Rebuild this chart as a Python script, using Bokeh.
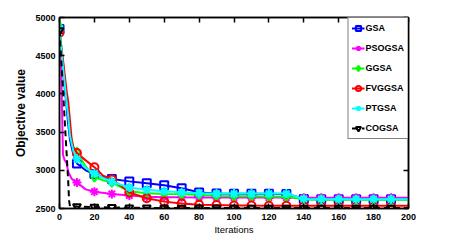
from bokeh.plotting import figure
from bokeh.models import LinearAxis, FixedTicker, Range1d
from bokeh.embed import file_html
from bokeh.resources import INLINE

# ---- data ----
gsa_iter = [0, 2, 4, 5, 6, 8, 10, 15, 20, 25, 30, 40, 50, 60, 70, 75, 80, 90, 100, 110, 120, 130, 135, 140, 150, 160, 170, 180, 190, 200]
gsa_val = [4850, 4300, 3850, 3600, 3400, 3200, 3090, 3000, 2950, 2910, 2885, 2855, 2830, 2805, 2765, 2740, 2710, 2695, 2693, 2692, 2692, 2690, 2660, 2625, 2622, 2620, 2620, 2620, 2620, 2620]

pso_iter = [0, 1, 2, 3, 4, 5, 7, 8, 10, 15, 20, 30, 40, 50, 60, 70, 80, 90, 100, 110, 120, 130, 140, 150, 160, 170, 180, 190, 200]
pso_val = [4850, 4300, 3200, 3130, 3100, 2980, 2890, 2870, 2840, 2750, 2720, 2690, 2670, 2655, 2648, 2646, 2645, 2645, 2644, 2644, 2643, 2643, 2642, 2642, 2641, 2641, 2640, 2640, 2640]

ggsa_iter = [0, 2, 4, 5, 6, 8, 10, 15, 20, 25, 30, 40, 50, 60, 70, 80, 90, 100, 110, 120, 130, 135, 140, 150, 160, 170, 180, 190, 200]
ggsa_val = [4880, 4400, 3950, 3750, 3500, 3300, 3240, 3050, 2910, 2870, 2840, 2725, 2700, 2690, 2685, 2680, 2665, 2660, 2660, 2658, 2655, 2640, 2618, 2616, 2615, 2615, 2615, 2615, 2615]

fvg_iter = [0, 2, 4, 5, 6, 7, 8, 10, 15, 20, 25, 30, 35, 40, 50, 60, 70, 80, 90, 100, 110, 120, 130, 140, 150, 160, 170, 180, 190, 200]
fvg_val = [4800, 4450, 4050, 3900, 3650, 3400, 3300, 3225, 3130, 3040, 2930, 2880, 2800, 2710, 2635, 2590, 2565, 2550, 2545, 2540, 2538, 2537, 2536, 2535, 2535, 2535, 2535, 2535, 2535, 2535]

pt_iter = [0, 2, 4, 5, 6, 8, 10, 15, 20, 25, 30, 40, 50, 60, 70, 80, 90, 100, 110, 120, 130, 135, 140, 150, 160, 170, 180, 190, 200]
pt_val = [4850, 4350, 3900, 3700, 3450, 3250, 3150, 3030, 2960, 2900, 2850, 2775, 2745, 2725, 2712, 2700, 2695, 2695, 2695, 2695, 2695, 2660, 2625, 2622, 2620, 2620, 2620, 2620, 2620]

co_iter = [0, 1, 2, 3, 4, 5, 5.5, 6, 10, 20, 30, 40, 50, 60, 70, 80, 90, 100, 110, 120, 130, 140, 150, 160, 170, 180, 190, 200]
co_val = [4830, 4450, 4050, 3650, 3250, 2850, 2600, 2530, 2525, 2518, 2514, 2510, 2508, 2507, 2506, 2505, 2505, 2505, 2505, 2505, 2505, 2505, 2505, 2505, 2505, 2505, 2505, 2505]

series = [
    ("GSA", gsa_iter, gsa_val, "#0000FF", "square", "solid", 8),
    ("PSOGSA", pso_iter, pso_val, "#FF00FF", "asterisk", "solid", 9),
    ("GGSA", ggsa_iter, ggsa_val, "#00FF00", "diamond", "solid", 9),
    ("FVGGSA", fvg_iter, fvg_val, "#FF0000", "circle", "solid", 8),
    ("PTGSA", pt_iter, pt_val, "#00FFFF", "asterisk", "solid", 9),
    ("COGSA", co_iter, co_val, "#000000", "inverted_triangle", "6 4", 8),
]

x_ticks = [0, 20, 40, 60, 80, 100, 120, 140, 160, 180, 200]
y_ticks = [2500, 3000, 3500, 4000, 4500, 5000]

FONT = "Liberation Sans"

p = figure(width=444, height=237, output_backend="svg", toolbar_location=None,
           x_range=Range1d(0, 200), y_range=Range1d(2500, 5000),
           min_border_left=59, min_border_right=36, min_border_top=17, min_border_bottom=29)
p.background_fill_color = "white"
p.border_fill_color = "white"
p.grid.visible = False
p.outline_line_color = "black"
p.outline_line_width = 1.5

for name, xs, ys, col, mk, dash, sz in series:
    p.line(xs, ys, line_color=col, line_width=2, line_dash=dash, legend_label=name)
    mx = [x for x in xs if x % 10 == 0 and x < 200]
    my = [y for x, y in zip(xs, ys) if x % 10 == 0 and x < 200]
    p.scatter(mx, my, marker=mk, size=sz, line_color=col, line_width=2,
              fill_color=col, fill_alpha=0.0, legend_label=name)

def style_axis(ax, show_labels=True):
    ax.major_tick_in = 5
    ax.major_tick_out = 0
    ax.minor_tick_line_color = None
    ax.major_tick_line_color = "black"
    ax.major_tick_line_width = 1.5
    ax.axis_line_color = "black"
    ax.axis_line_width = 1.5
    ax.major_label_text_font = FONT
    ax.major_label_text_font_style = "bold"
    ax.major_label_text_font_size = "9px"
    if show_labels:
        ax.major_label_text_color = "black"
    else:
        ax.major_label_text_color = None
        ax.major_label_standoff = 0

p.xaxis.ticker = FixedTicker(ticks=x_ticks)
p.yaxis.ticker = FixedTicker(ticks=y_ticks)
style_axis(p.xaxis[0])
style_axis(p.yaxis[0])
p.xaxis.major_label_standoff = 5
p.yaxis.major_label_standoff = 4

p.xaxis.axis_label = "Iterations"
p.xaxis.axis_label_text_font = FONT
p.xaxis.axis_label_text_font_style = "normal"
p.xaxis.axis_label_text_font_size = "9.5px"
p.xaxis.axis_label_text_color = "black"
p.xaxis.axis_label_standoff = 1

p.yaxis.axis_label = "Objective value"
p.yaxis.axis_label_text_font = FONT
p.yaxis.axis_label_text_font_style = "bold"
p.yaxis.axis_label_text_font_size = "12px"
p.yaxis.axis_label_text_color = "black"
p.yaxis.axis_label_standoff = 4

top_ax = LinearAxis(ticker=FixedTicker(ticks=x_ticks))
style_axis(top_ax, show_labels=False)
p.add_layout(top_ax, "above")
right_ax = LinearAxis(ticker=FixedTicker(ticks=y_ticks))
style_axis(right_ax, show_labels=False)
p.add_layout(right_ax, "right")

lg = p.legend[0]
lg.location = "top_right"
lg.margin = 0
lg.padding = 3
lg.spacing = 6
lg.glyph_width = 13
lg.glyph_height = 14
lg.label_height = 14
lg.label_standoff = 1
lg.label_text_font = FONT
lg.label_text_font_style = "bold"
lg.label_text_font_size = "9px"
lg.label_text_color = "black"
lg.border_line_color = "black"
lg.border_line_width = 1.5
lg.background_fill_color = "white"
lg.background_fill_alpha = 1.0

open("out.html", "w").write(file_html(p, INLINE))
